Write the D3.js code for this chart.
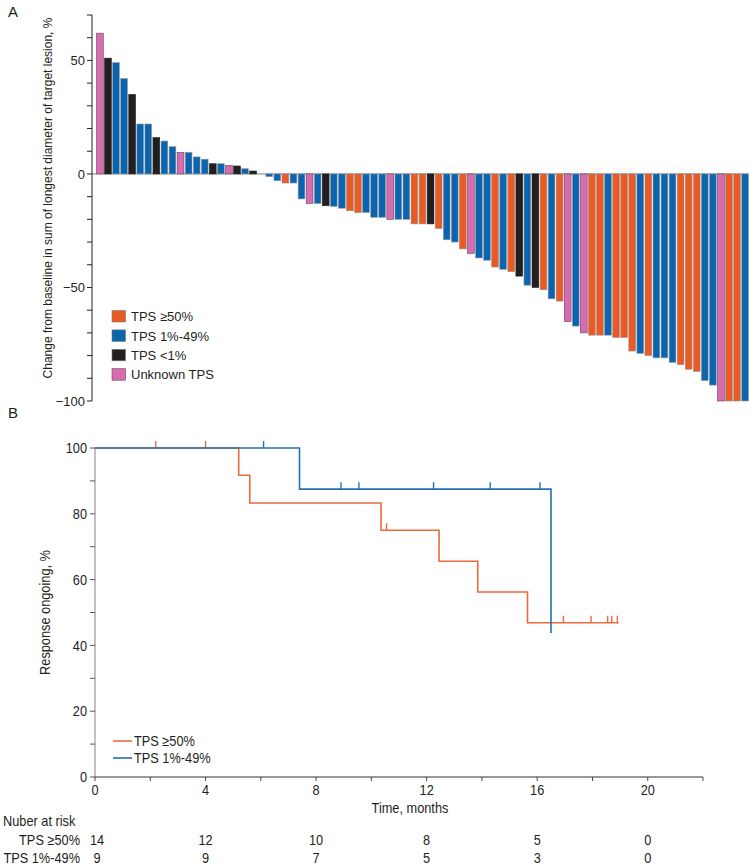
<!DOCTYPE html>
<html>
<head>
<meta charset="utf-8">
<script src="https://cdn.jsdelivr.net/npm/d3@7"></script>
<style>
  html, body { margin: 0; padding: 0; background: #fff; }
  svg { display: block; }
  .fa { font-family: "Liberation Sans", Arial, Helvetica, sans-serif; }
  .fb { font-family: "Liberation Sans", Arial, Helvetica, sans-serif; }
</style>
</head>
<body>
<svg id="chart" width="754" height="866"></svg>
<script>
// ---------------- Panel A data (waterfall) ----------------
const barValues = [
  62, 51, 49, 42, 35, 22, 22, 16, 14.5, 12,
  9.5, 9.5, 7.5, 6.5, 4.5, 4.5, 3.7, 3.5, 2.3, 1.3,
  0, -1.2, -3, -4, -4, -11, -13, -13, -14, -14.3,
  -15.1, -16.2, -17, -17, -19.1, -19.1, -20, -20, -20, -22,
  -22, -22, -24, -29, -30, -33, -35, -37, -38, -41,
  -42, -43, -45, -49, -50, -51, -55, -56, -65, -67,
  -70, -71, -71, -71, -72, -72, -78, -79, -80, -81,
  -81, -83, -84, -86, -87, -91, -93, -100, -100, -100,
  -100
];
// H = TPS >=50%, M = TPS 1%-49%, L = TPS <1%, U = unknown
const barGroups = [
  "U","L","M","M","L","M","M","L","M","M",
  "U","M","M","M","L","M","U","L","M","L",
  "M","M","M","H","M","M","U","M","L","M",
  "M","H","H","M","M","M","U","M","M","H",
  "H","L","H","M","M","H","U","M","M","H",
  "M","H","L","M","L","H","M","H","U","M",
  "U","H","H","M","H","H","H","M","H","M",
  "M","M","H","H","H","M","M","U","H","H",
  "M"
];
const groupKeys = ["H", "M", "L", "U"];
const groupLabels = ["TPS \u226550%", "TPS 1%-49%", "TPS <1%", "Unknown TPS"];
const groupColors = ["#E95A24", "#0B64AD", "#231F20", "#D66DB0"];
const groupStrokes = ["#9a8f8a", "#8f9aa6", "#231F20", "#6e3d60"];
const yTicksA = [-100, -50, 0, 50];
const yMinorA = d3.range(-100, 71, 10);

// ---------------- Panel B data (Kaplan-Meier) ----------------
const kmHighTimes  = [0, 5.2, 5.6, 10.35, 12.45, 13.85, 15.65, 18.95];
const kmHighValues = [100, 91.7, 83.3, 75, 65.6, 56.25, 46.9, 46.9];
const kmHighCensorTimes  = [2.2, 4.0, 10.55, 16.95, 17.95, 18.55, 18.7, 18.9];
const kmHighCensorValues = [100, 100, 75, 46.9, 46.9, 46.9, 46.9, 46.9];
const kmMidTimes  = [0, 7.4, 16.5];
const kmMidValues = [100, 87.5, 43.75];
const kmMidCensorTimes  = [6.1, 8.9, 9.55, 12.25, 14.3, 16.1];
const kmMidCensorValues = [100, 87.5, 87.5, 87.5, 87.5, 87.5];
const kmColors = ["#EC6A3C", "#2570B6"];
const kmLabels = ["TPS \u226550%", "TPS 1%-49%"];
const xTicksB = [0, 4, 8, 12, 16, 20];
const xMinorB = d3.range(0, 23, 2);
const yTicksB = [0, 20, 40, 60, 80, 100];
const yMinorB = d3.range(0, 101, 10);
const riskTimes = [0, 4, 8, 12, 16, 20];
const riskHigh = [14, 12, 10, 8, 5, 0];
const riskMid  = [9, 9, 7, 5, 3, 0];

const svg = d3.select("#chart");
const condenseF = 0.88;
const fsB = 14.5;
function condense(sel, f = condenseF) {
  sel.each(function () {
    const w = this.getComputedTextLength();
    d3.select(this).attr("textLength", w * f).attr("lengthAdjust", "spacingAndGlyphs");
  });
}

// ================= Panel A =================
const gA = svg.append("g").attr("class", "fa");
const xA = d3.scaleBand().domain(d3.range(barValues.length)).range([96.5, 748.5]).paddingInner(0.16).paddingOuter(0);
const yA = d3.scaleLinear().domain([-100, 70]).range([401, 15]);
const axisXA = 92;

gA.append("text").attr("x", 8).attr("y", 17).attr("font-size", 15).attr("fill", "#231F20").text("A");

// zero line
gA.append("line").attr("x1", axisXA).attr("x2", 748.5).attr("y1", yA(0)).attr("y2", yA(0))
  .attr("stroke", "#9a9a9a").attr("stroke-width", 1.2);

// bars
gA.selectAll("rect.bar").data(barValues).join("rect")
  .attr("class", "bar")
  .attr("x", (d, i) => xA(i))
  .attr("width", xA.bandwidth())
  .attr("y", d => Math.min(yA(0), yA(d)))
  .attr("height", d => Math.abs(yA(d) - yA(0)))
  .attr("fill", (d, i) => groupColors[groupKeys.indexOf(barGroups[i])])
  .attr("stroke", (d, i) => d === 0 ? "none" : groupStrokes[groupKeys.indexOf(barGroups[i])])
  .attr("stroke-width", 0.6);

// y axis
gA.append("line").attr("x1", axisXA).attr("x2", axisXA).attr("y1", yA(70)).attr("y2", yA(-100))
  .attr("stroke", "#231F20").attr("stroke-width", 1);
gA.selectAll("line.tA").data(yMinorA).join("line").attr("class", "tA")
  .attr("x1", axisXA - 5).attr("x2", axisXA).attr("y1", d => yA(d)).attr("y2", d => yA(d))
  .attr("stroke", "#231F20").attr("stroke-width", 1);
gA.selectAll("text.lA").data(yTicksA).join("text").attr("class", "lA")
  .attr("x", axisXA - 7).attr("y", d => yA(d)).attr("dy", "0.36em")
  .attr("text-anchor", "end").attr("font-size", 13).attr("fill", "#231F20")
  .text(d => d < 0 ? "\u2212" + Math.abs(d) : d);

gA.append("text")
  .attr("transform", `translate(52,198) rotate(-90)`)
  .attr("text-anchor", "middle").attr("font-size", 12).attr("fill", "#231F20")
  .text("Change from baseline in sum of longest diameter of target lesion, %");

// legend A
const legA = gA.append("g");
groupLabels.forEach((lab, i) => {
  const yy = 316.5 + i * 19.4;
  legA.append("rect").attr("x", 112).attr("y", yy - 6).attr("width", 13.5).attr("height", 11.5)
    .attr("fill", groupColors[i]).attr("stroke", i === 3 ? "#6e3d60" : "#777").attr("stroke-width", 0.6);
  legA.append("text").attr("x", 131).attr("y", yy).attr("dy", "0.36em")
    .attr("font-size", 13).attr("fill", "#231F20").text(lab);
});

// ================= Panel B =================
const gB = svg.append("g").attr("class", "fb");
const xB = d3.scaleLinear().domain([0, 22]).range([95, 703]);
const yB = d3.scaleLinear().domain([0, 100]).range([777, 448]);

gB.append("text").attr("x", 8).attr("y", 418).attr("font-size", 15).attr("fill", "#231F20")
  .text("B");

// y axis
gB.append("line").attr("x1", xB(0)).attr("x2", xB(0)).attr("y1", yB(100)).attr("y2", yB(0))
  .attr("stroke", "#a0a0a0").attr("stroke-width", 1.3);
gB.selectAll("line.tB").data(yMinorB).join("line").attr("class", "tB")
  .attr("x1", xB(0) - 5).attr("x2", xB(0)).attr("y1", d => yB(d)).attr("y2", d => yB(d))
  .attr("stroke", "#444").attr("stroke-width", 0.9);
gB.selectAll("text.lyB").data(yTicksB).join("text").attr("class", "lyB")
  .attr("x", xB(0) - 8).attr("y", d => yB(d)).attr("dy", "0.36em")
  .attr("text-anchor", "end").attr("font-size", fsB).attr("fill", "#231F20").text(d => d)
  .call(condense);

// x axis
gB.append("line").attr("x1", xB(0)).attr("x2", xB(22)).attr("y1", yB(0)).attr("y2", yB(0))
  .attr("stroke", "#333").attr("stroke-width", 1);
gB.selectAll("line.txB").data(xMinorB).join("line").attr("class", "txB")
  .attr("x1", d => xB(d)).attr("x2", d => xB(d)).attr("y1", yB(0)).attr("y2", yB(0) + 4)
  .attr("stroke", "#333").attr("stroke-width", 0.9);
gB.selectAll("text.lxB").data(xTicksB).join("text").attr("class", "lxB")
  .attr("x", d => xB(d)).attr("y", yB(0) + 13).attr("dy", "0.36em")
  .attr("text-anchor", "middle").attr("font-size", fsB).attr("fill", "#231F20").text(d => d)
  .call(condense);

gB.append("text").attr("x", 410).attr("y", 808).attr("dy", "0.36em")
  .attr("text-anchor", "middle").attr("font-size", fsB).attr("fill", "#231F20").text("Time, months")
  .call(condense);

gB.append("text")
  .attr("transform", `translate(50,${(yB(0) + yB(100)) / 2}) rotate(-90)`)
  .attr("text-anchor", "middle").attr("font-size", fsB).attr("fill", "#231F20")
  .text("Response ongoing, %").call(condense);

// KM curves
const stepLine = d3.line().x(d => xB(d[0])).y(d => yB(d[1])).curve(d3.curveStepAfter);
const kmSeries = [
  { t: kmHighTimes, v: kmHighValues, ct: kmHighCensorTimes, cv: kmHighCensorValues, c: kmColors[0] },
  { t: kmMidTimes, v: kmMidValues, ct: kmMidCensorTimes, cv: kmMidCensorValues, c: kmColors[1] }
];
kmSeries.forEach(s => {
  gB.append("path").attr("d", stepLine(s.t.map((t, i) => [t, s.v[i]])))
    .attr("fill", "none").attr("stroke", s.c).attr("stroke-width", 1.6);
  gB.selectAll(null).data(s.ct).join("line")
    .attr("x1", d => xB(d)).attr("x2", d => xB(d))
    .attr("y1", (d, i) => yB(s.cv[i])).attr("y2", (d, i) => yB(s.cv[i]) - 7)
    .attr("stroke", s.c).attr("stroke-width", 1.4);
});

// legend B
kmLabels.forEach((lab, i) => {
  const yy = 741 + i * 17;
  gB.append("line").attr("x1", 113).attr("x2", 132).attr("y1", yy).attr("y2", yy)
    .attr("stroke", kmColors[i]).attr("stroke-width", 1.6);
  gB.append("text").attr("x", 134).attr("y", yy).attr("dy", "0.36em")
    .attr("font-size", fsB).attr("fill", "#231F20").text(lab).call(condense);
});

// risk table
gB.append("text").attr("x", 3).attr("y", 821).attr("dy", "0.36em")
  .attr("font-size", fsB).attr("fill", "#231F20").text("Nuber at risk").call(condense);
[[kmLabels[0], riskHigh, 840], [kmLabels[1], riskMid, 858]].forEach(([lab, vals, yy]) => {
  gB.append("text").attr("x", 80).attr("y", yy).attr("dy", "0.36em").attr("text-anchor", "end")
    .attr("font-size", fsB).attr("fill", "#231F20").text(lab).call(condense);
  gB.selectAll(null).data(vals).join("text")
    .attr("x", (d, i) => xB(riskTimes[i]) + (i === 0 ? 2 : 0)).attr("y", yy).attr("dy", "0.36em")
    .attr("text-anchor", "middle").attr("font-size", fsB).attr("fill", "#231F20").text(d => d)
    .call(condense);
});
</script>
</body>
</html>
